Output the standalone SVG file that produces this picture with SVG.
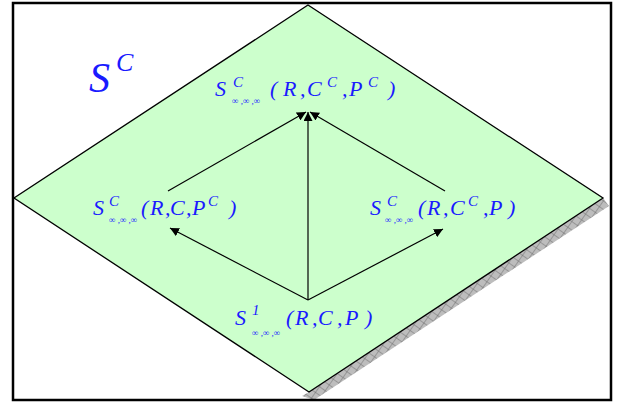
<svg xmlns="http://www.w3.org/2000/svg" width="621" height="403" viewBox="0 0 621 403">
<style>
.m{font-family:"Liberation Serif","Times New Roman",serif;font-style:italic;font-size:22px;fill:#1a1aff}
.sp{font-family:"Liberation Serif","Times New Roman",serif;font-style:italic;font-size:15px;fill:#1a1aff}
.sb{font-family:"Liberation Serif","Times New Roman",serif;font-style:italic;font-size:9px;fill:#1a1aff}
.edge{stroke:#000;stroke-width:1.2;fill:none;marker-end:url(#ah)}
</style>
<defs>
<pattern id="hatch" width="7" height="7" patternUnits="userSpaceOnUse" patternTransform="rotate(35)">
<rect width="7" height="7" fill="#bdbdbd"/>
<path d="M0 0H7M0 0V7" stroke="#707070" stroke-width="1"/>
</pattern>
<marker id="ah" viewBox="0 0 10 10" refX="10" refY="5" markerWidth="9" markerHeight="9" markerUnits="userSpaceOnUse" orient="auto">
<path d="M0 0L10 5L0 10z" fill="#000"/>
</marker>
</defs>
<rect x="0" y="0" width="621" height="403" fill="#fff"/>
<g id="plane">
<polygon points="603,198 609,206 314,400 302,396 309,392" fill="url(#hatch)"/>
<polygon points="308,5 603,198 309,392 14,198" fill="#ccffcc" stroke="#000" stroke-width="1.3"/>
</g>
<rect x="13" y="3" width="598" height="397" fill="none" stroke="#000" stroke-width="2.5"/>
<g id="title">
<text x="89" y="92" font-family="Liberation Serif, serif" font-style="italic" font-size="42" fill="#1a1aff">S</text>
<text x="116" y="71" font-family="Liberation Serif, serif" font-style="italic" font-size="26" fill="#1a1aff">C</text>
</g>
<g id="connectors">
<line class="edge" x1="308" y1="300" x2="308" y2="112"/>
<line class="edge" x1="308" y1="300" x2="170" y2="228"/>
<line class="edge" x1="308" y1="300" x2="443" y2="229"/>
<line class="edge" x1="168" y1="191" x2="306" y2="112"/>
<line class="edge" x1="445" y1="191" x2="310" y2="112"/>
</g>
<g id="top">
<text class="m" x="215" y="96">S</text>
<text class="sp" x="233" y="87">C</text>
<text class="sb" x="232" y="104">∞ ,∞ ,∞</text>
<text class="m" x="270" y="96">(</text>
<text class="m" x="283" y="96">R</text>
<text class="m" x="300" y="96">,</text>
<text class="m" x="307" y="96">C</text>
<text class="sp" x="327" y="87">C</text>
<text class="m" x="342" y="96">,</text>
<text class="m" x="349" y="96">P</text>
<text class="sp" x="368" y="87">C</text>
<text class="m" x="388" y="96">)</text>
</g>
<g id="left">
<text class="m" x="93" y="215">S</text>
<text class="sp" x="109" y="206">C</text>
<text class="sb" x="109" y="223">∞ ,∞ ,∞</text>
<text class="m" x="141" y="215">(</text>
<text class="m" x="150" y="215">R</text>
<text class="m" x="165" y="215">,</text>
<text class="m" x="170" y="215">C</text>
<text class="m" x="186" y="215">,</text>
<text class="m" x="192" y="215">P</text>
<text class="sp" x="208" y="206">C</text>
<text class="m" x="229" y="215">)</text>
</g>
<g id="right">
<text class="m" x="370" y="215">S</text>
<text class="sp" x="387" y="206">C</text>
<text class="sb" x="385" y="223">∞ ,∞ ,∞</text>
<text class="m" x="418" y="215">(</text>
<text class="m" x="427" y="215">R</text>
<text class="m" x="443" y="215">,</text>
<text class="m" x="450" y="215">C</text>
<text class="sp" x="468" y="206">C</text>
<text class="m" x="483" y="215">,</text>
<text class="m" x="489" y="215">P</text>
<text class="m" x="508" y="215">)</text>
</g>
<g id="bottom">
<text class="m" x="235" y="325">S</text>
<text class="sp" x="252" y="315">1</text>
<text class="sb" x="252" y="336">∞ ,∞ ,∞</text>
<text class="m" x="286" y="325">(</text>
<text class="m" x="295" y="325">R</text>
<text class="m" x="312" y="325">,</text>
<text class="m" x="318" y="325">C</text>
<text class="m" x="337" y="325">,</text>
<text class="m" x="345" y="325">P</text>
<text class="m" x="365" y="325">)</text>
</g>
</svg>
